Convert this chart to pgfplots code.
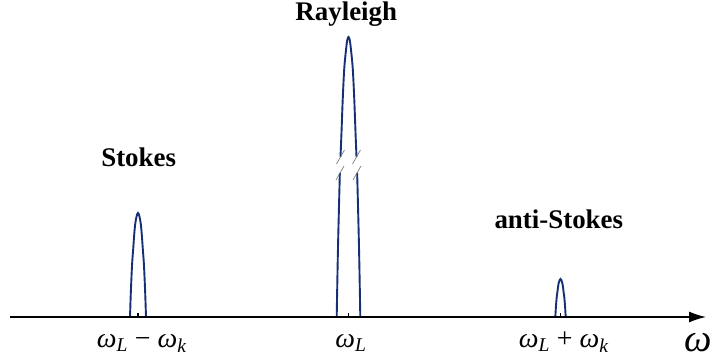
\documentclass[border=0pt]{standalone}
\usepackage{pgfplots}
\pgfplotsset{compat=1.18}
\usetikzlibrary{arrows.meta}
\usepackage{fontspec}
\setmainfont{Liberation Serif}
\definecolor{peak}{RGB}{22,48,118}
\newcommand\lab{\bfseries\fontsize{27}{30}\selectfont}
\newcommand\tl{\fontsize{28}{30}\selectfont}
\begin{document}
\begin{tikzpicture}
\begin{axis}[scale only axis, width=716bp, height=360bp,
  xmin=0, xmax=716, ymin=-43, ymax=317, hide axis, clip=false]
% Stokes
\addplot[peak, line width=1.9bp, smooth, tension=0.5] coordinates {
 (130,0) (130.88,26) (132.1,53) (133.25,68.6) (134.07,80.6) (135.15,92.6) (136.64,100.9) (138,104)
 (139.36,100.9) (140.85,92.6) (141.93,80.6) (142.75,68.6) (143.9,53) (145.12,26) (146,0)};
% Rayleigh (broken)
\addplot[peak, line width=1.9bp, smooth, tension=0.5] coordinates {
 (336.7,0) (338,70) (339.85,144)};
\addplot[peak, line width=1.9bp, smooth, tension=0.5] coordinates {
 (340.5,160) (341.5,184.8) (342.7,217) (344.3,249.2) (346.5,271.6) (347.5,277.9) (348.5,280)
 (349.5,277.9) (350.5,271.6) (352.7,249.2) (354.3,217) (355.5,184.8) (356.5,160)};
\addplot[peak, line width=1.9bp, smooth, tension=0.5] coordinates {
 (357.15,144) (359,70) (360.3,0)};
% anti-Stokes
\addplot[peak, line width=1.9bp, smooth, tension=0.5] coordinates {
 (555.3,0) (555.87,9.5) (556.67,19.4) (557.42,25.1) (557.95,29.5) (558.65,33.8) (559.62,36.9) (560.5,38)
 (561.38,36.9) (562.35,33.8) (563.05,29.5) (563.58,25.1) (564.33,19.4) (565.13,9.5) (565.7,0)};
% break marks
\draw[gray, line width=0.7bp] (axis cs:336,137) -- (axis cs:344,151);
\draw[gray, line width=0.7bp] (axis cs:336.5,153) -- (axis cs:344.5,167);
\draw[gray, line width=0.7bp] (axis cs:353,137) -- (axis cs:361,151);
\draw[gray, line width=0.7bp] (axis cs:352.5,153) -- (axis cs:360.5,167);
% axis
\draw[line width=1.3bp, -{Latex[length=17bp,width=11bp]}] (axis cs:10,0) -- (axis cs:706,0);
\draw[line width=1.3bp] (axis cs:138,0) -- (axis cs:138,4);
\draw[line width=1.3bp] (axis cs:348.5,0) -- (axis cs:348.5,4);
\draw[line width=1.3bp] (axis cs:560.5,0) -- (axis cs:560.5,4);
% labels
\node[anchor=base] at (axis cs:346.3,296.3) {\lab Rayleigh};
\node[anchor=base] at (axis cs:138.7,150.3) {\lab Stokes};
\node[anchor=base] at (axis cs:558.8,88.7) {\lab anti-Stokes};
\node[anchor=base] at (axis cs:141.7,-30.3) {\tl\itshape ω\textsubscript{L} \upshape− \itshape ω\textsubscript{k}};
\node[anchor=base] at (axis cs:351,-30.3) {\tl\itshape ω\textsubscript{L}};
\node[anchor=base] at (axis cs:563.7,-30.3) {\tl\itshape ω\textsubscript{L} \upshape+ \itshape ω\textsubscript{k}};
\node[anchor=base, inner sep=0pt] at (axis cs:698.5,-34) {\fontsize{39}{42}\selectfont\itshape ω};
\end{axis}
\pgfresetboundingbox
\useasboundingbox (0,0) rectangle (716bp,360bp);
\end{tikzpicture}
\end{document}
